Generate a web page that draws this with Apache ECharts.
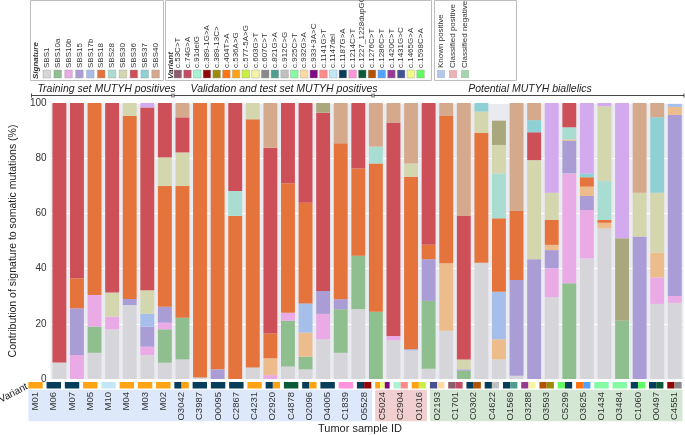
<!DOCTYPE html>
<html><head><meta charset="utf-8">
<script src="https://cdn.jsdelivr.net/npm/echarts@6/dist/echarts.min.js"></script>
<style>html,body{margin:0;padding:0;background:#fff}#c{width:685px;height:435px}</style>
</head><body><div id="c"></div><script>
// ---------- DATA ----------
const samples = ["M01","M06","M07","M05","M10","M04","M03","M02","O3042","C3987","O0095","C2867","C4231","O2920","C4878","O2096","O4005","C1839","O5528","C5024","C2904","O1016","O2193","C1701","C0302","C4622","O1569","O3288","O3593","C5299","O3625","O1434","O3484","C1060","O0497","C4551"];

const SBS1   = [6,0,9.5,18,26.8,8.7,5.9,7.1, 0.5,0,0,4.2,0,4.5,3.5,14.4,9.5,25.3,0, 14,10.3,3.7, 17.5,0,42.1,7.1,1.2,0,29.6,0,43.7,54.6,0,0,27.2,27.6];
const SBS10a = [0,0,9.5,0,0,0,12.1,15.1, 0,0,0,0,0,16.6,4.6,0,15.8,19.4,24.4, 0,0,24.6, 0,3.0,0,0,0,0,0,34.7,0,0,21.1,0,0,0];
const SBS10b = [0,8.7,11.4,4.6,0,3.0,2.4,0, 0,0,0,0,1.4,2.9,0,9.2,0,0,0, 1.6,0,0, 0,0,0,0,0,0,10.5,39.8,17.5,0,0,0,9.6,2.5];
const SBS15  = [0,16.9,0,0,2.2,7.3,5.8,0, 0,3.5,0,0,0,0,0,8.3,3.6,0,0, 0,0,15.1, 0,0.5,0,0,34.7,43.4,6.6,11.8,5.1,0,0,51.6,0,65.6];
const unlabelledPeach = [0,0,0,0,0,0,0,0, 0,0,0,0,6.1,0,8.7,0,0,0,0, 0,0,0, 24.4,0,0,7.3,0,0,1.9,0.5,3.4,2,0,0,9,2.9];
const SBS17b = [0,0,0,0,0,4.6,0,0, 0,0,0,0,0,0,10.6,0,0,0,0, 0,0.5,0, 0,0,0,17.2,0,0,0,0,0,0,0,0,0,1.1];
const SBS18  = [0,10.9,69.6,0,66.3,0,43.7,47.7, 99.5,96.5,59.1,89.9,9.0,46.9,36.5,0,56.5,31.6,53.7, 0,62.5,5.2, 53.4,0,47.1,26.6,25,0,9,0,3.4,1,0,0,0,0];
const SBS28  = [0,0,0,0,0,0,0,0, 0,0,9,0,0,0,0,0,0,0,6.1, 0,0,0, 0,0,0,16.3,0,0,0,4.4,0,14.1,0,0,0,0];
const SBS30  = [0,0,0,8.7,4.7,8.6,10.4,12.2, 0,0,0,5.9,0,0,0,0,0,0,0, 0,4.8,0, 0,3.6,7.7,10.3,0,35.9,9.9,0,0,27.1,0,15.9,21.7,0];
const SBS36  = [94,63.5,0,68.7,0,66.2,19.7,12.7, 0,0,31.9,0,67.3,29.1,36.1,64.6,0,23.7,0, 77.3,0,51.4, 0,52,0,0,0,10.1,0,8.8,0,0,0,0,0,0];
const SBS37  = [0,0,0,0,0,0,0,0, 0,0,0,0,0,0,0,0,0,0,0, 0,0,0, 0,0,3.1,0,0,4.4,0,0,1.4,0,0,0,27.3,0];
const SBS40  = [0,0,0,0,0,0,0,5.2, 0,0,0,0,16.2,0,0,0,14.6,0,15.8, 7.1,21.9,0, 4.7,40.9,0,0,39.1,6.2,0,0,0,0,0,32.5,5.2,0];
const unlabelledOlive    = [0,0,0,0,0,0,0,0, 0,0,0,0,0,0,0,3.5,0,0,0, 0,0,0, 0,0,0,8.8,0,0,0,0,0,0,29.9,0,0,0];
const unlabelledLavender = [0,0,0,0,0,1.6,0,0, 0,0,0,0,0,0,0,0,0,0,0, 0,0,0, 0,0,0,0,0,0,32.5,0,25.5,1.2,49,0,0,0];

const signatureNames  = ["SBS1","SBS10a","SBS10b","SBS15","SBS17b","SBS18","SBS28","SBS30","SBS36","SBS37","SBS40"];
const signatureColors = ["#d6d6da","#90bf8f","#e9aae6","#aa9dd5","#a5bfea","#e4743b","#a9ddd1","#d4d6ad","#cd5059","#8fd0d5","#d5a98b"];

const variantNames  = ["c.53C>T","c.74G>A","c.91delG","c.389-1G>A","c.389-13C>","c.404T>A","c.536A>G","c.577-5A>G","c.603G>T","c.607C>T","c.821G>A","c.912C>G","c.925C>T","c.932G>A","c.933+3A>C","c.1141G>T","c.1147del","c.1187G>A","c.1214C>T","c.1227_1228dupGG","c.1276C>T","c.1286C>T","c.1420C>T","c.1431G>C","c.1465G>A","c.1598C>A"];
const variantColors = ["#8e5c6c","#c24a62","#a9f2d2","#930606","#9c8b05","#ff7314","#ffa314","#c9ef47","#f4f3a6","#8a8a8a","#4f9d8e","#c0c0c0","#85fba4","#ffd9a3","#7f0a84","#ff8a8a","#c2e8f8","#053d5b","#ff92dc","#0a5a38","#b25203","#52a2ff","#963b93","#445290","#f1fb84","#63fb63"];
const variantParts = [["c.536A>G"],["c.1187G>A"],["c.1187G>A"],["c.536A>G"],["c.1147del"],["c.536A>G"],["c.536A>G"],["c.536A>G"],
  ["c.1187G>A","c.536A>G"],["c.1187G>A"],["c.1187G>A"],["c.1187G>A"],["c.536A>G"],["c.1187G>A","c.536A>G"],["c.1227_1228dupGG"],["c.1187G>A","c.536A>G"],["c.1187G>A"],["c.1214C>T"],["c.1187G>A","c.389-1G>A"],
  ["c.536A>G","c.1465G>A","c.933+3A>C"],["c.91delG","c.1141G>T"],["c.536A>G","c.577-5A>G"],
  ["c.1431G>C","c.932G>A"],["c.53C>T","c.74G>A"],["c.1187G>A","c.1276C>T"],["c.1187G>A","c.912C>G"],["c.1187G>A","c.821G>A"],["c.1420C>T","c.603G>T"],["c.1276C>T","c.389-13C>"],["c.1598C>A","c.1187G>A"],["c.404T>A","c.1286C>T"],["c.925C>T"],["c.925C>T"],["c.1187G>A","c.1598C>A"],["c.1187G>A","c.1227_1228dupGG"],["c.389-1G>A","c.607C>T"]];

const statusNames  = ["Known positive","Classified positive","Classified negative"];
const statusFirst  = ["M01","C5024","O2193"];
const statusLast   = ["O5528","O1016","C4551"];
const statusBand   = ["#dde9fb","#f1cfd0","#d3e7d4"];
const statusLegend = ["#b3c7eb","#e9b2b6","#a9d3b0"];

const sectionTitles = ["Training set MUTYH positives","Validation and test set MUTYH positives","Potential MUTYH biallelics"];

// ---------- CHART ----------
const chart = echarts.init(document.getElementById('c'), null, {renderer:'canvas'});
const stack = [
  ["SBS1",SBS1,signatureColors[0]],["SBS10a",SBS10a,signatureColors[1]],["SBS10b",SBS10b,signatureColors[2]],
  ["SBS15",SBS15,signatureColors[3]],["unlabelled peach",unlabelledPeach,"#ecbc8c"],["SBS17b",SBS17b,signatureColors[4]],
  ["SBS18",SBS18,signatureColors[5]],["SBS28",SBS28,signatureColors[6]],["SBS30",SBS30,signatureColors[7]],
  ["SBS36",SBS36,signatureColors[8]],["SBS37",SBS37,signatureColors[9]],["SBS40",SBS40,signatureColors[10]],
  ["unlabelled olive",unlabelledOlive,"#a9a87c"],["unlabelled lavender",unlabelledLavender,"#d4aaef"]
];
const BW = 0.79;
const series = stack.map(([n,d,c]) => ({
  name:n, type:'bar', stack:'sig', xAxisIndex:0, yAxisIndex:0, data:d, barWidth:(BW*100)+'%',
  itemStyle:{color:c}, emphasis:{disabled:true}, silent:true
}));

const idx = s => samples.indexOf(s);
const variantData = [];
variantParts.forEach((parts,i) => parts.forEach((v,k) => variantData.push({value:[i,k,parts.length], itemStyle:{color:variantColors[variantNames.indexOf(v)]}})));
series.push({
  type:'custom', xAxisIndex:1, yAxisIndex:1, z:3, silent:true, clip:false,
  encode:{x:0, y:1},
  renderItem:(params, api) => {
    const i = api.value(0), k = api.value(1), n = api.value(2);
    const bw = api.size([1,0])[0]*BW;
    const top = api.coord([i,1]), bot = api.coord([i,0]);
    return {type:'rect', shape:{x:top[0]-bw/2+k*bw/n, y:top[1], width:bw/n, height:bot[1]-top[1]}, style:api.style()};
  },
  data: variantData
});
series.push({
  type:'custom', xAxisIndex:1, yAxisIndex:1, z:1, silent:true, clip:false,
  encode:{x:[0,1], y:2},
  renderItem:(params, api) => {
    const s = api.value(0), e = api.value(1);
    const bw = api.size([1,0])[0]*BW;
    const p0 = api.coord([s,0]), p1 = api.coord([e,0]);
    return {type:'rect', shape:{x:p0[0]-bw/2, y:p0[1]+1.2, width:p1[0]-p0[0]+bw+0.8, height:31.5}, style:{fill:api.visual('color')}};
  },
  data: statusNames.map((n,g) => ({value:[idx(statusFirst[g]), idx(statusLast[g]), 0], itemStyle:{color:statusBand[g]}}))
});

// legend graphics
const g = [];
const txt = (x,y,t,opt={}) => g.push({type:'text', x, y, rotation:Math.PI/2, style:Object.assign({text:t, fill:'#333', font:'8px "Liberation Sans", Arial, sans-serif', align:'left', verticalAlign:'middle'}, opt), silent:true});
const box = (x,w) => g.push({type:'rect', shape:{x:x+0.5, y:0.5, width:w, height:80}, style:{fill:'none', stroke:'#bdbdbd', lineWidth:1}, silent:true});
box(30,133); box(165,266); box(434,82);
txt(36,79,'Signature',{font:'italic bold 8px "Liberation Sans", Arial, sans-serif'});
signatureNames.forEach((n,k) => { const cx = 46.8 + k*10.88; txt(cx,68,n); g.push({type:'rect', shape:{x:cx-3.8, y:70, width:7.6, height:8}, style:{fill:signatureColors[k], stroke:'#9a9a9a', lineWidth:0.4}, silent:true}); });
txt(171,79,'Variant',{font:'italic bold 8px "Liberation Sans", Arial, sans-serif'});
variantNames.forEach((n,k) => { const cx = 177.8 + k*9.71; txt(cx,68,n); g.push({type:'rect', shape:{x:cx-3.8, y:70, width:7.6, height:8}, style:{fill:variantColors[k], stroke:'#9a9a9a', lineWidth:0.4}, silent:true}); });
statusNames.forEach((n,k) => { const cx = 441 + k*12; txt(cx,68,n); g.push({type:'rect', shape:{x:cx-4, y:70, width:8, height:8}, style:{fill:statusLegend[k]}, silent:true}); });

// section headers
const secLines = [[31.5,172],[174,372],[374,684]];
const secText = [106.5,284,530];
sectionTitles.forEach((t,k) => {
  const [a,b] = secLines[k];
  g.push({type:'line', shape:{x1:a, y1:95.5, x2:b, y2:95.5}, style:{stroke:'#333', lineWidth:0.9}, silent:true});
  g.push({type:'line', shape:{x1:a, y1:93.5, x2:a, y2:97.5}, style:{stroke:'#333', lineWidth:0.9}, silent:true});
  g.push({type:'line', shape:{x1:b, y1:93.5, x2:b, y2:97.5}, style:{stroke:'#333', lineWidth:0.9}, silent:true});
  g.push({type:'text', x:secText[k], y:89, style:{text:t, fill:'#222', font:'italic 10.5px "Liberation Sans", Arial, sans-serif', align:'center', verticalAlign:'middle'}, silent:true});
});
g.push({type:'text', x:27, y:386, rotation:Math.PI/6.5, style:{text:'Variant', fill:'#222', font:'10px "Liberation Sans", Arial, sans-serif', align:'right', verticalAlign:'middle'}, silent:true});
g.push({type:'text', x:360, y:429, style:{text:'Tumor sample ID', fill:'#222', font:'11px "Liberation Sans", Arial, sans-serif', align:'center', verticalAlign:'middle'}, silent:true});

chart.setOption({
  animation:false,
  grid:[
    {left:26.4, right:1.4, top:103, bottom:56, show:true, backgroundColor:'#eaeaf1', borderWidth:0},
    {left:26.4, right:1.4, top:382, height:6.5}
  ],
  xAxis:[
    {type:'category', gridIndex:0, data:samples, axisLine:{show:false}, axisTick:{show:false}, axisLabel:{show:false}},
    {type:'category', gridIndex:1, data:samples, z:10, axisLine:{show:false}, axisTick:{show:false},
     axisLabel:{rotate:90, margin:3.5, fontSize:9.5, color:'#333', fontFamily:'"Liberation Sans", Arial, sans-serif'}}
  ],
  yAxis:[
    {type:'value', gridIndex:0, min:0, max:100, interval:20,
     axisLine:{show:false}, axisTick:{show:false},
     axisLabel:{fontSize:10, color:'#333', margin:4, fontFamily:'"Liberation Sans", Arial, sans-serif'},
     splitLine:{lineStyle:{color:'#ffffff', width:1}},
     name:'Contribution of signature to somatic mutations (%)', nameLocation:'middle', nameGap:24,
     nameTextStyle:{fontSize:10.5, color:'#222', fontFamily:'"Liberation Sans", Arial, sans-serif'}},
    {type:'value', gridIndex:1, min:0, max:1, show:false}
  ],
  series,
  graphic:g
});
</script></body></html>
